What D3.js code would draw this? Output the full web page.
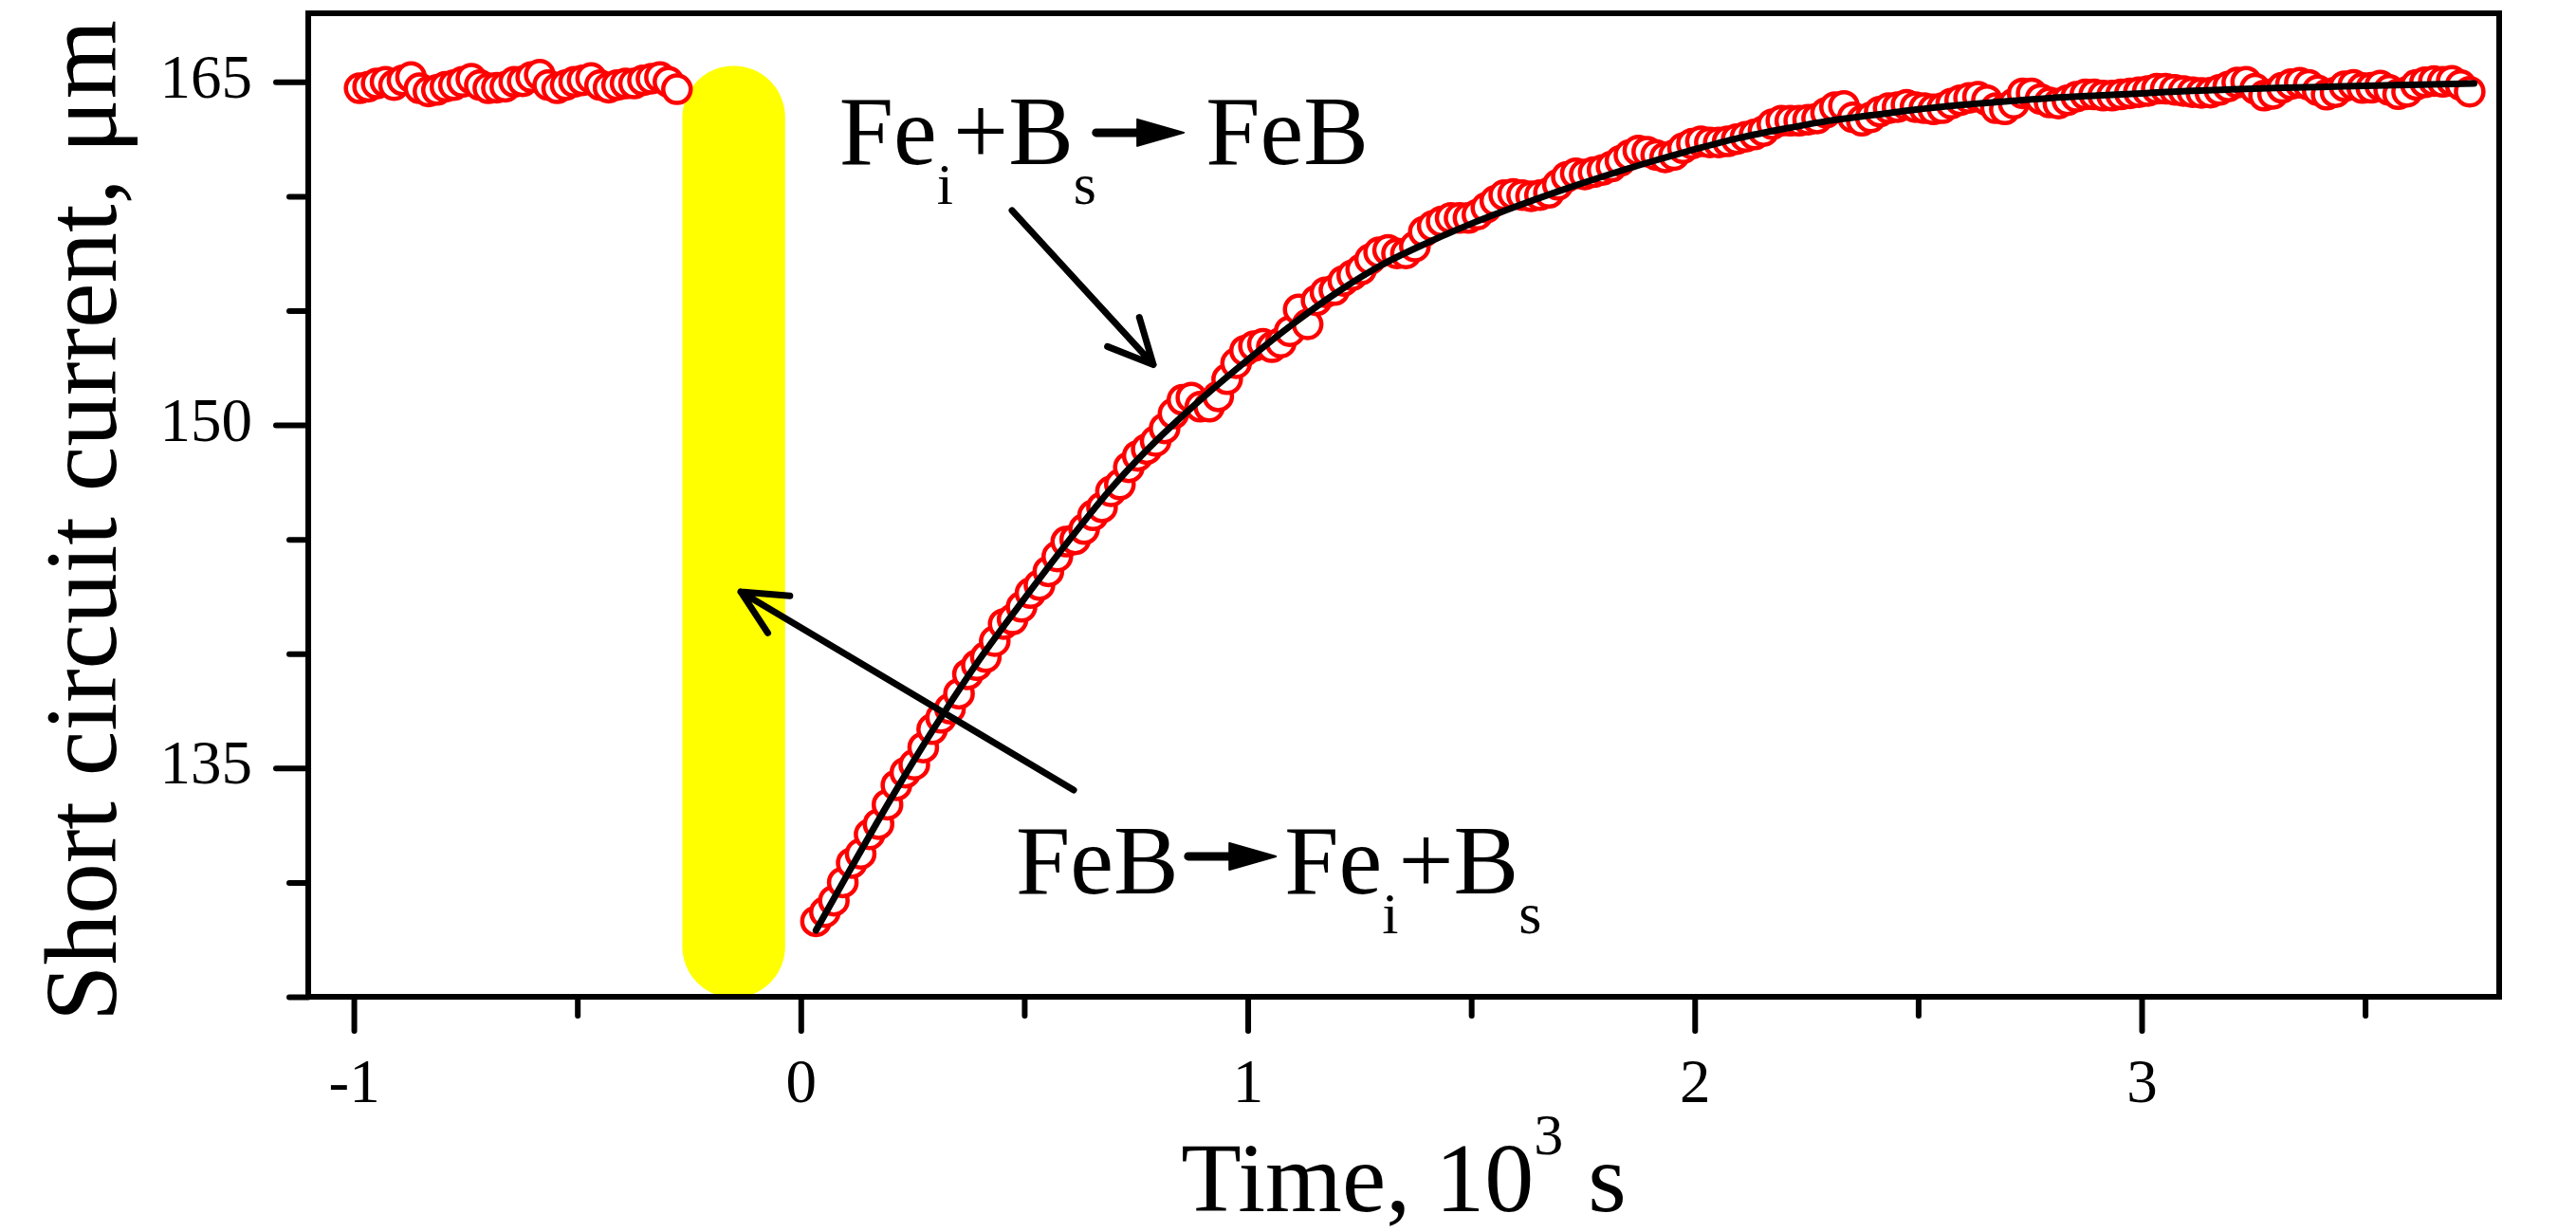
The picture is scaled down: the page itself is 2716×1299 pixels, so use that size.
<!DOCTYPE html>
<html><head><meta charset="utf-8">
<script src="https://cdn.jsdelivr.net/npm/d3@7"></script>
<style>html,body{margin:0;padding:0;background:#fff;} svg{display:block} text{font-family:"Liberation Serif","Times New Roman",serif;fill:#000;white-space:pre;}</style>
</head><body><svg id="chart" width="2716" height="1299"></svg>
<script>
// ---------------- data (time in 10^3 s, current in µm as labelled) ----------------
const preTime = [-0.987,-0.968,-0.949,-0.929,-0.910,-0.891,-0.872,-0.853,-0.833,-0.814,
  -0.795,-0.776,-0.757,-0.737,-0.718,-0.699,-0.680,-0.661,-0.641,-0.622,
  -0.603,-0.584,-0.565,-0.545,-0.526,-0.507,-0.488,-0.469,-0.449,-0.430,
  -0.411,-0.392,-0.373,-0.353,-0.334,-0.315,-0.296,-0.277];
const preCurrent = [164.72,164.79,164.93,165.0,164.86,165.07,165.21,164.72,164.58,164.65,
  164.79,164.86,165.0,165.14,164.86,164.72,164.75,164.79,165.0,165.03,
  165.21,165.31,164.86,164.72,164.86,165.0,165.07,165.17,164.86,164.75,
  164.86,164.93,164.93,165.07,165.14,165.21,165.0,164.68];

const postTime = [0.034,0.054,0.074,0.094,0.114,0.134,0.154,0.174,0.194,0.214,
  0.234,0.254,0.274,0.294,0.314,0.334,0.354,0.374,0.394,0.414,
  0.434,0.454,0.474,0.494,0.514,0.534,0.554,0.574,0.594,0.614,
  0.634,0.654,0.674,0.694,0.714,0.734,0.754,0.774,0.794,0.814,
  0.834,0.854,0.874,0.894,0.914,0.934,0.954,0.974,0.994,1.014,
  1.034,1.054,1.074,1.094,1.114,1.134,1.154,1.174,1.194,1.214,
  1.234,1.254,1.274,1.294,1.314,1.334,1.354,1.374,1.394,1.414,
  1.434,1.454,1.474,1.494,1.514,1.534,1.554,1.574,1.594,1.614,
  1.634,1.654,1.674,1.694,1.714,1.734,1.754,1.774,1.794,1.814,
  1.834,1.854,1.874,1.894,1.914,1.934,1.954,1.974,1.994,2.014,
  2.034,2.054,2.074,2.094,2.114,2.134,2.154,2.174,2.194,2.214,
  2.234,2.254,2.274,2.294,2.314,2.334,2.354,2.374,2.394,2.414,
  2.434,2.454,2.474,2.494,2.514,2.534,2.554,2.574,2.594,2.614,
  2.634,2.654,2.674,2.694,2.714,2.734,2.754,2.774,2.794,2.814,
  2.834,2.854,2.874,2.894,2.914,2.934,2.954,2.974,2.994,3.014,
  3.034,3.054,3.074,3.094,3.114,3.134,3.154,3.174,3.194,3.214,
  3.234,3.254,3.274,3.294,3.314,3.334,3.354,3.374,3.394,3.414,
  3.434,3.454,3.474,3.494,3.514,3.534,3.554,3.574,3.594,3.614,
  3.634,3.654,3.674,3.694,3.714,3.734];
const postCurrent = [128.3,128.7,129.2,130.0,130.85,131.25,132.1,132.55,133.4,134.25,
  134.8,135.15,135.9,136.7,137.2,137.6,138.25,139.1,139.5,139.85,
  140.55,141.3,141.5,142.05,142.65,143.0,143.6,144.25,144.9,145.0,
  145.45,146.05,146.4,147.1,147.4,148.15,148.65,148.95,149.3,149.85,
  150.5,151.1,151.2,150.8,150.8,151.25,152.0,152.7,153.25,153.45,
  153.55,153.4,153.6,154.1,155.05,154.4,155.45,155.8,155.9,156.3,
  156.55,156.8,157.25,157.55,157.65,157.5,157.5,157.8,158.45,158.7,
  158.9,159.05,159.05,159.05,159.2,159.5,159.8,160.05,160.1,160.05,
  160.0,160.05,160.15,160.5,160.85,161.0,160.95,161.05,161.15,161.3,
  161.55,161.8,162.0,161.95,161.8,161.7,161.8,162.1,162.3,162.4,
  162.35,162.35,162.4,162.5,162.6,162.7,162.85,163.15,163.3,163.3,
  163.3,163.35,163.4,163.65,163.9,163.95,163.45,163.3,163.45,163.7,
  163.85,163.9,164.0,163.9,163.85,163.8,163.85,164.05,164.2,164.3,
  164.35,164.2,163.85,163.8,164.05,164.5,164.5,164.25,164.1,164.05,
  164.2,164.35,164.45,164.45,164.4,164.4,164.45,164.5,164.55,164.6,
  164.7,164.7,164.65,164.6,164.55,164.52,164.53,164.65,164.8,164.97,
  165.0,164.7,164.4,164.48,164.74,164.9,164.96,164.87,164.63,164.44,
  164.55,164.81,164.87,164.73,164.74,164.84,164.65,164.46,164.57,164.87,
  164.98,165.04,165.0,165.05,164.86,164.57];

const fitTime = [0.034,0.1,0.2,0.3,0.4,0.5,0.6,0.7,0.8,0.9,1.0,1.1,1.2,1.3,1.4,1.5,1.6,1.7,1.8,1.9,
  2.0,2.1,2.2,2.3,2.4,2.5,2.6,2.7,2.8,2.9,3.0,3.1,3.2,3.3,3.4,3.5,3.6,3.7,3.744];
const fitCurrent = [127.9,130.2,133.6,136.8,139.75,142.4,144.95,147.35,149.4,151.2,152.85,154.4,155.8,157.0,157.95,158.8,159.55,160.25,160.9,161.5,
  162.05,162.55,162.95,163.3,163.55,163.8,164.0,164.15,164.3,164.4,164.5,164.6,164.67,164.73,164.78,164.83,164.87,164.91,164.93];

const xMajorTicks = [-1, 0, 1, 2, 3];
const xMinorTicks = [-0.5, 0.5, 1.5, 2.5, 3.5];
const yMajorTicks = [135, 150, 165];
const yMinorTicks = [125, 130, 140, 145, 155, 160];

const xTitle = ["Time, 10", "3", " s"];
const yTitle = "Short circuit current, μm";

// annotation layout (data coordinates)
const band = {t0: -0.265, t1: -0.035, top: 165.7, bottom: 124.95};
const pointerArrows = [
  {from: [0.4726, 159.38], to: [0.7888, 152.64]},
  {from: [0.6106, 134.04], to: [-0.1343, 142.71]}
];
const reactions = [
  {left: [{t:"Fe"},{t:"i",sub:true},{t:"+B"},{t:"s",sub:true}], right: [{t:"FeB"}],
   leftX: 0.086, arrowX0: 0.661, arrowX1: 0.857, rightX: 0.906, baseY: 161.41, arrowY: 162.78},
  {left: [{t:"FeB"}], right: [{t:"Fe"},{t:"i",sub:true},{t:"+B"},{t:"s",sub:true}],
   leftX: 0.481, arrowX0: 0.867, arrowX1: 1.063, rightX: 1.082, baseY: 129.52, arrowY: 131.14}
];

// ---------------- drawing ----------------
const W = 2716, H = 1299;
const plot = {left: 325, right: 2635, top: 14, bottom: 1051};
const x = d3.scaleLinear().domain([-1.102, 3.8]).range([plot.left, plot.right]);
const y = d3.scaleLinear().domain([125, 168]).range([plot.bottom, plot.top]);

const svg = d3.select("#chart");
svg.append("rect").attr("width", W).attr("height", H).attr("fill", "#fff");

// yellow marker band
const bw = x(band.t1) - x(band.t0);
svg.append("rect")
  .attr("x", x(band.t0)).attr("width", bw)
  .attr("y", y(band.top)).attr("height", y(band.bottom) - y(band.top))
  .attr("rx", bw / 2).attr("ry", bw / 2)
  .attr("fill", "#ffff00");

// scatter points
const points = preTime.map((t, i) => ({t, v: preCurrent[i]}))
  .concat(postTime.map((t, i) => ({t, v: postCurrent[i]})));
svg.append("g").selectAll("circle").data(points).join("circle")
  .attr("cx", d => x(d.t)).attr("cy", d => y(d.v)).attr("r", 14.5)
  .attr("fill", "#fff").attr("stroke", "#ff0000").attr("stroke-width", 4.5);

// fit curve
const line = d3.line().x(d => x(d[0])).y(d => y(d[1])).curve(d3.curveMonotoneX);
svg.append("path").datum(fitTime.map((t, i) => [t, fitCurrent[i]]))
  .attr("d", line).attr("fill", "none").attr("stroke", "#000")
  .attr("stroke-width", 7).attr("stroke-linecap", "round");

// pointer arrows
pointerArrows.forEach(a => {
  const x1 = x(a.from[0]), y1 = y(a.from[1]), x2 = x(a.to[0]), y2 = y(a.to[1]);
  const ang = Math.atan2(y2 - y1, x2 - x1), L = 52, h = 26 * Math.PI / 180;
  const w1 = [x2 - L * Math.cos(ang - h), y2 - L * Math.sin(ang - h)];
  const w2 = [x2 - L * Math.cos(ang + h), y2 - L * Math.sin(ang + h)];
  svg.append("path")
    .attr("d", `M${x1},${y1}L${x2},${y2}M${w1[0]},${w1[1]}L${x2},${y2}L${w2[0]},${w2[1]}`)
    .attr("fill", "none").attr("stroke", "#000").attr("stroke-width", 7)
    .attr("stroke-linecap", "round").attr("stroke-linejoin", "round");
});

// reaction formulas
function formula(parts, px, py) {
  const t = svg.append("text").attr("x", px).attr("y", py).attr("font-size", 103);
  let shifted = false;
  parts.forEach(p => {
    const ts = t.append("tspan").text(p.t);
    if (p.sub && !shifted) { ts.attr("font-size", 62).attr("dy", 42); shifted = true; }
    else if (!p.sub && shifted) { ts.attr("dy", -42); shifted = false; }
  });
}
reactions.forEach(r => {
  formula(r.left, x(r.leftX), y(r.baseY));
  formula(r.right, x(r.rightX), y(r.baseY));
  const ax0 = x(r.arrowX0), ax1 = x(r.arrowX1), ay = y(r.arrowY);
  svg.append("line").attr("x1", ax0).attr("x2", ax1 - 40).attr("y1", ay).attr("y2", ay)
    .attr("stroke", "#000").attr("stroke-width", 9).attr("stroke-linecap", "round");
  svg.append("path").attr("d", `M${ax1},${ay}L${ax1 - 49},${ay - 14}L${ax1 - 49},${ay + 14}Z`)
    .attr("fill", "#000").attr("stroke", "#000").attr("stroke-width", 2).attr("stroke-linejoin", "round");
});

// axes
function styleAxis(g) {
  g.select(".domain").remove();
  g.selectAll(".tick line").attr("stroke", "#000").attr("stroke-width", 6).attr("stroke-linecap", "round");
  g.selectAll(".tick text").attr("font-size", 65).attr("fill", "#000")
    .attr("font-family", "Liberation Serif, Times New Roman, serif");
}
const gxMinor = svg.append("g").attr("transform", `translate(0,${plot.bottom})`)
  .call(d3.axisBottom(x).tickValues(xMinorTicks).tickSize(20).tickFormat(""));
styleAxis(gxMinor);
const gxMajor = svg.append("g").attr("transform", `translate(0,${plot.bottom})`)
  .call(d3.axisBottom(x).tickValues(xMajorTicks).tickSize(36).tickFormat(d => String(d)));
styleAxis(gxMajor);
gxMajor.selectAll(".tick text").attr("y", 111).attr("dy", 0);

const gyMinor = svg.append("g").attr("transform", `translate(${plot.left},0)`)
  .call(d3.axisLeft(y).tickValues(yMinorTicks).tickSize(20).tickFormat(""));
styleAxis(gyMinor);
const gyMajor = svg.append("g").attr("transform", `translate(${plot.left},0)`)
  .call(d3.axisLeft(y).tickValues(yMajorTicks).tickSize(34).tickFormat(d => String(d)));
styleAxis(gyMajor);
gyMajor.selectAll(".tick text").attr("x", -59).attr("dy", 16);

// frame
svg.append("rect").attr("x", plot.left).attr("y", plot.top)
  .attr("width", plot.right - plot.left).attr("height", plot.bottom - plot.top)
  .attr("fill", "none").attr("stroke", "#000").attr("stroke-width", 6);

// axis titles
const xt = svg.append("text").attr("x", (plot.left + plot.right) / 2).attr("y", 1277)
  .attr("text-anchor", "middle").attr("font-size", 104);
xt.append("tspan").text(xTitle[0]);
xt.append("tspan").attr("font-size", 62).attr("dy", -60).text(xTitle[1]);
xt.append("tspan").attr("dy", 60).text(xTitle[2]);

svg.append("text").attr("transform", "translate(122,549) rotate(-90)")
  .attr("text-anchor", "middle").attr("font-size", 107).text(yTitle);
</script></body></html>
